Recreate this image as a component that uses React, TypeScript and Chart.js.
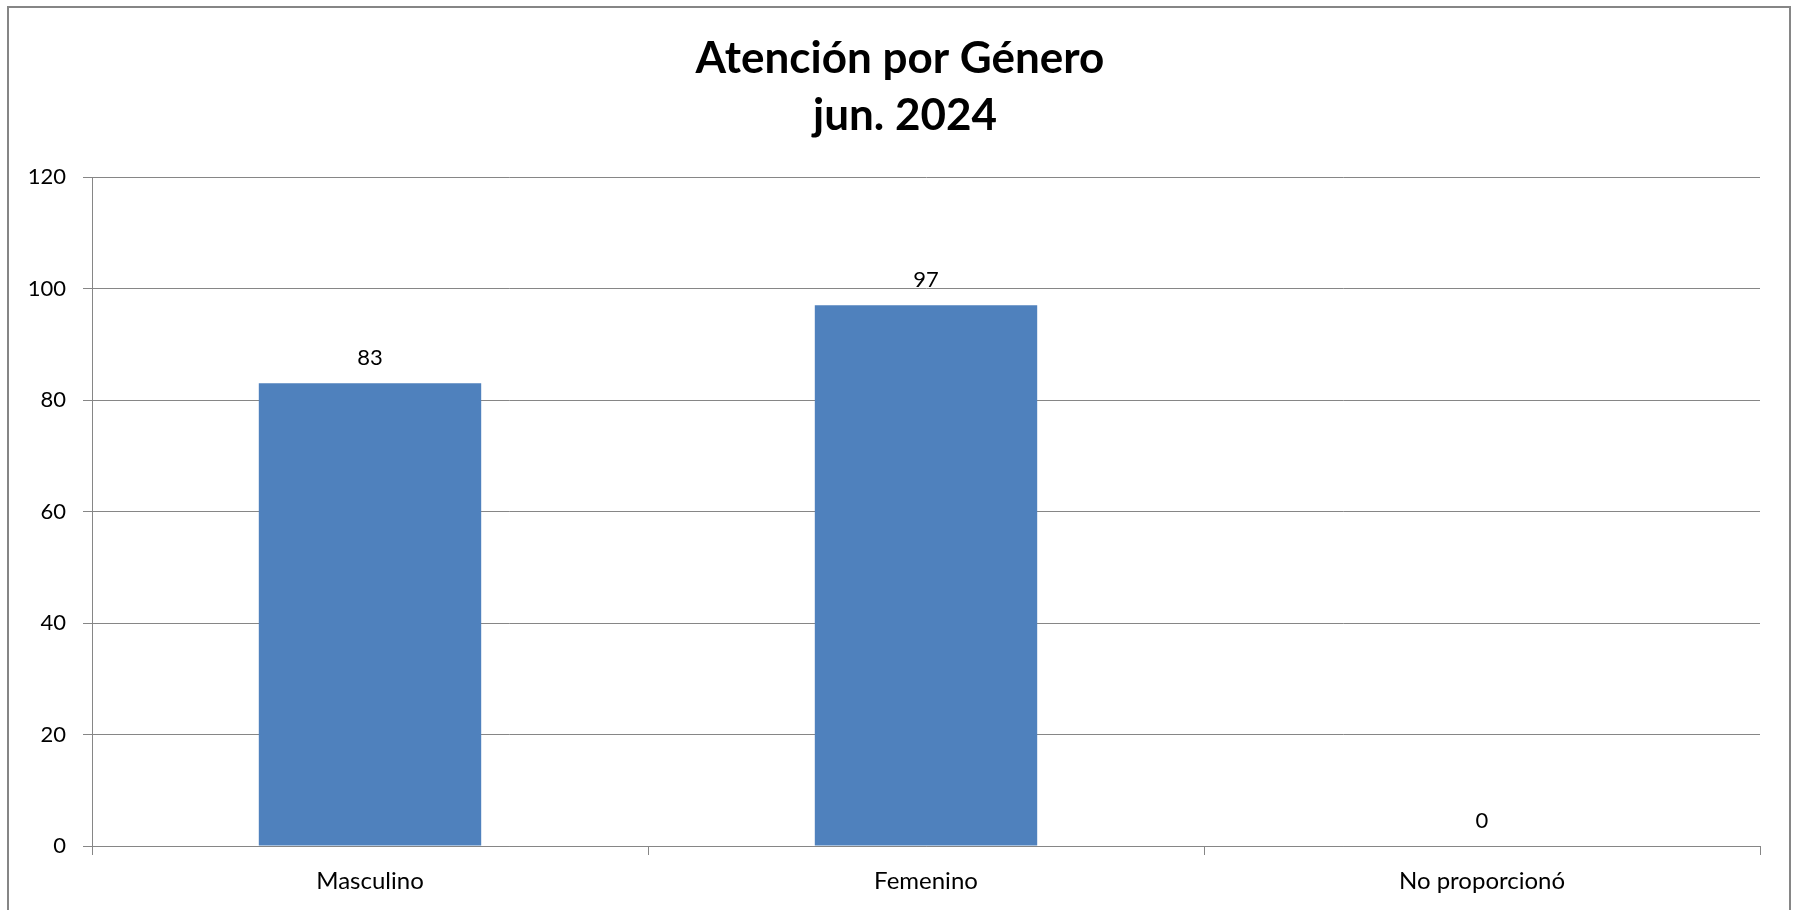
import React, { useEffect, useRef } from "react";
import { Chart, registerables } from "chart.js";

Chart.register(...registerables);

const titleLines = ["Atención por Género", "jun. 2024"];
const categories = ["Masculino", "Femenino", "No proporcionó"];
const values = [83, 97, 0];
const yMin = 0;
const yMax = 120;
const yStep = 20;

const FONT = "Lato, 'Open Sans', sans-serif";
const GRID = "#868686";
const BAR = "#4F81BD";

const W = 1796;
const H = 910;

const framePlugin = {
  id: "frame",
  beforeDraw(chart: any) {
    const ctx = chart.ctx;
    ctx.save();
    ctx.fillStyle = "#ffffff";
    ctx.fillRect(0, 0, chart.width, chart.height);
    ctx.strokeStyle = GRID;
    ctx.lineWidth = 2;
    ctx.strokeRect(8, 7, 1782, 1000);
    ctx.restore();
  },
  afterDraw(chart: any) {
    const ctx = chart.ctx;
    ctx.save();
    ctx.fillStyle = "#000";
    ctx.textAlign = "center";
    ctx.textBaseline = "alphabetic";
    ctx.font = `bold 44px ${FONT}`;
    ctx.fillText(titleLines[0], 900, 73);
    ctx.fillText(titleLines[1], 905, 130);
    ctx.restore();
  },
};

const labelPlugin = {
  id: "valueLabels",
  afterDatasetsDraw(chart: any) {
    const ctx = chart.ctx;
    const meta = chart.getDatasetMeta(0);
    ctx.save();
    ctx.fillStyle = "#000";
    ctx.textAlign = "center";
    ctx.textBaseline = "alphabetic";
    ctx.font = `22px ${FONT}`;
    meta.data.forEach((bar: any, i: number) => {
      ctx.fillText(String(values[i]), bar.x, bar.y - 18);
    });
    ctx.restore();
  },
};

export default function App() {
  const ref = useRef<HTMLCanvasElement | null>(null);

  useEffect(() => {
    if (!ref.current) return;
    const chart = new Chart(ref.current, {
      type: "bar",
      data: {
        labels: categories,
        datasets: [
          {
            data: values,
            backgroundColor: BAR,
            borderWidth: 0,
            categoryPercentage: 1,
            barPercentage: 0.4,
          },
        ],
      },
      options: {
        animation: false,
        responsive: false,
        maintainAspectRatio: false,
        layout: { padding: { left: 0, right: 36, top: 177, bottom: 0 } },
        plugins: {
          legend: { display: false },
          title: { display: false },
          tooltip: { enabled: false },
        },
        scales: {
          x: {
            grid: {
              display: true,
              drawOnChartArea: false,
              drawTicks: true,
              tickLength: 9,
              color: GRID,
              offset: true,
            },
            border: { display: true, color: GRID, width: 1 },
            ticks: {
              font: { family: FONT, size: 24 },
              color: "#000",
              padding: 12,
              maxRotation: 0,
              autoSkip: false,
            },
            afterFit(scale: any) {
              scale.height = 64;
            },
          },
          y: {
            min: yMin,
            max: yMax,
            grid: { color: GRID, tickLength: 9, lineWidth: 1 },
            border: { display: true, color: GRID, width: 1 },
            ticks: {
              stepSize: yStep,
              font: { family: FONT, size: 22 },
              color: "#000",
              padding: 17,
            },
            afterFit(scale: any) {
              scale.width = 92;
            },
          },
        },
      },
      plugins: [framePlugin, labelPlugin],
    });
    return () => chart.destroy();
  }, []);

  return (
    <div style={{ position: "absolute", left: 0, top: 0, width: W, height: H }}>
      <canvas ref={ref} width={W} height={H} style={{ width: W, height: H, display: "block" }} />
    </div>
  );
}
